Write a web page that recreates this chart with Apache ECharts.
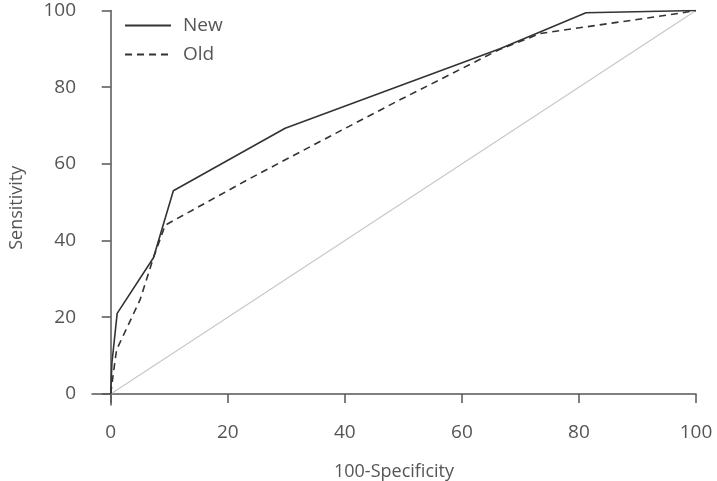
<!DOCTYPE html>
<html>
<head>
<meta charset="utf-8">
<script src="https://cdn.jsdelivr.net/npm/echarts@6/dist/echarts.min.js"></script>
<style>
  html, body { margin: 0; padding: 0; background: #fff; }
  #main { width: 717px; height: 481px; }
</style>
</head>
<body>
<div id="main"></div>
<script>
// ROC curves, x = 100-Specificity, y = Sensitivity
var newX = [0, 0.2, 1.1, 7.3, 10.7, 29.8, 66.5, 81.2, 100];
var newY = [0, 8, 21, 35.5, 53, 69.3, 90, 99.4, 100];

var oldX = [0, 0.5, 1.0, 5, 7.3, 9.3, 23.8, 36.6, 49.4, 66.4, 73.4, 97.3, 100];
var oldY = [0, 6, 11.5, 24.5, 35.5, 44, 56.2, 66.5, 76.7, 89.8, 94, 99.3, 100];

var refX = [0, 100];
var refY = [0, 100];

var tickVals = [0, 20, 40, 60, 80, 100];

function pairs(xs, ys) {
  return xs.map(function (x, i) { return [x, ys[i]]; });
}

var axisColor = '#555';
var fontFam = '"Open Sans", "Noto Sans", sans-serif';

var chart = echarts.init(document.getElementById('main'), null, { renderer: 'canvas' });

var option = {
  animation: false,
  backgroundColor: '#fff',
  grid: {
    left: 92,
    right: 21,
    top: 10.5,
    bottom: 76,
    containLabel: false,
    outerBoundsMode: 'none'
  },
  legend: {
    orient: 'vertical',
    left: 119,
    top: 11,
    itemWidth: 46,
    itemHeight: 14,
    itemGap: 10,
    data: ['New', 'Old'],
    itemStyle: { opacity: 0 },
    textStyle: { color: axisColor, fontSize: 19, fontFamily: fontFam, padding: [0, 0, 0, 7] }
  },
  xAxis: {
    type: 'value',
    min: -3.2,
    max: 100,
    name: '100-Specificity',
    nameLocation: 'middle',
    nameGap: 58,
    nameTextStyle: { color: axisColor, fontSize: 18, fontFamily: fontFam },
    splitLine: { show: false },
    axisLine: { show: true, lineStyle: { color: axisColor, width: 1.5 } },
    axisTick: { show: true, length: 9, customValues: tickVals, lineStyle: { color: axisColor, width: 1.5 } },
    axisLabel: { customValues: tickVals, color: axisColor, fontSize: 19, fontFamily: fontFam, margin: 18 }
  },
  yAxis: {
    type: 'value',
    min: -2.9,
    max: 100,
    name: 'Sensitivity',
    nameLocation: 'middle',
    nameGap: 66,
    nameTextStyle: { color: axisColor, fontSize: 18, fontFamily: fontFam },
    splitLine: { show: false },
    axisLine: { show: true, lineStyle: { color: axisColor, width: 1.5 } },
    axisTick: { show: true, length: 9, customValues: tickVals, lineStyle: { color: axisColor, width: 1.5 } },
    axisLabel: { customValues: tickVals, color: axisColor, fontSize: 19, fontFamily: fontFam, margin: 16 }
  },
  series: [
    {
      name: 'Reference',
      type: 'line',
      data: pairs(refX, refY),
      symbol: 'none',
      silent: true,
      lineStyle: { color: '#c8c8c8', width: 1.2 }
    },
    {
      name: 'New',
      type: 'line',
      data: pairs(newX, newY),
      symbol: 'none',
      itemStyle: { color: '#333' },
      lineStyle: { color: '#333', width: 1.6 }
    },
    {
      name: 'Old',
      type: 'line',
      data: pairs(oldX, oldY),
      symbol: 'none',
      itemStyle: { color: '#333' },
      lineStyle: { color: '#333', width: 1.6, type: [7, 5] }
    }
  ]
};

chart.setOption(option);
</script>
</body>
</html>
